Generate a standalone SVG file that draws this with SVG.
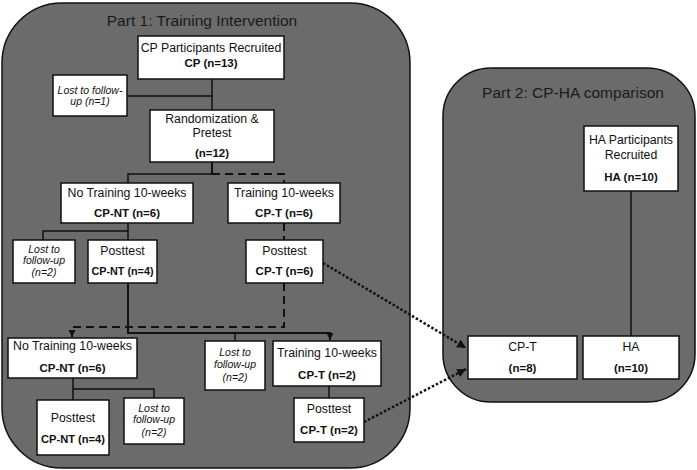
<svg xmlns="http://www.w3.org/2000/svg" width="697" height="470" viewBox="0 0 697 470">
<style>
.panel{fill:#6b6b6b;stroke:#111;stroke-width:1.5}
.title{font-family:"Liberation Sans",Arial,sans-serif;font-size:15.5px;fill:#1a1a1a;text-anchor:middle}
.box{fill:#fff;stroke:#111;stroke-width:1.5}
.t{font-family:"Liberation Sans",Arial,sans-serif;font-size:12.3px;fill:#111;text-anchor:middle}
.b{font-weight:bold;font-size:11.5px}
.i{font-style:italic;font-size:10.5px}
.ln{fill:none;stroke:#111;stroke-width:1.5}
.thk{fill:none;stroke:#111;stroke-width:2}
.dash{fill:none;stroke:#111;stroke-width:2;stroke-dasharray:8,5}
.dot{fill:none;stroke:#111;stroke-width:2.5;stroke-dasharray:2.5,2}
</style>
<defs>
<marker id="ah" markerWidth="8" markerHeight="8" refX="7" refY="4" orient="auto" markerUnits="userSpaceOnUse">
<path d="M0,0.5 L7,4 L0,7.5 Z" fill="#111"/>
</marker>
<marker id="ahd" markerWidth="10" markerHeight="10" refX="9" refY="5" orient="auto" markerUnits="userSpaceOnUse">
<path d="M0,0.5 L9,5 L0,9.5 Z" fill="#111"/>
</marker>
</defs>
<rect width="697" height="470" fill="#fff"/>
<g id="part1">
<rect class="panel" x="2" y="3" width="408" height="465" rx="60" ry="60"/>
<text class="title" x="202" y="26">Part 1: Training Intervention</text>
</g>
<g id="part2">
<rect class="panel" x="443" y="68" width="252" height="334" rx="48" ry="48"/>
<text class="title" x="573" y="98">Part 2: CP-HA comparison</text>
</g>
<g id="connectors">
<line class="ln" x1="212" y1="79" x2="212" y2="110"/>
<line class="ln" x1="127" y1="96" x2="212" y2="96"/>
<line class="thk" x1="212" y1="162" x2="212" y2="174"/>
<polyline class="ln" points="212,174 128,174 128,183"/>
<polyline class="dash" points="212,174 284,174 284,183"/>
<line class="ln" x1="128" y1="223" x2="128" y2="240"/>
<polyline class="ln" points="128,231 43,231 43,240"/>
<line class="dash" x1="284" y1="223" x2="284" y2="240" stroke-dasharray="6,3"/>
<polyline class="thk" points="128,283 128,333 330,333 330,340" marker-end="url(#ah)"/>
<line class="ln" x1="235" y1="333" x2="235" y2="341"/>
<polyline class="dash" points="284,283 284,327 72,327 72,337" marker-end="url(#ah)"/>
<line class="ln" x1="73" y1="378" x2="73" y2="400"/>
<polyline class="ln" points="73,389 154,389 154,398"/>
<line class="ln" x1="329" y1="386" x2="329" y2="398"/>
<line class="dot" x1="323" y1="263" x2="466" y2="348" marker-end="url(#ahd)"/>
<line class="dot" x1="364" y1="422" x2="466" y2="369" marker-end="url(#ahd)"/>
<line class="ln" x1="631" y1="191" x2="631" y2="336"/>
</g>
<g id="cp_recruited">
<rect class="box" x="138" y="36" width="146" height="43"/>
<text class="t" x="211" y="52">CP Participants Recruited</text>
<text class="t b" x="211" y="67">CP (n=13)</text>
</g>
<g id="lost1">
<rect class="box" x="53" y="75" width="74" height="41"/>
<text class="t i" x="90" y="94">Lost to follow-</text>
<text class="t i" x="90" y="105">up (n=1)</text>
</g>
<g id="randomization">
<rect class="box" x="150" y="110" width="124" height="52"/>
<text class="t" x="212" y="123">Randomization &amp;</text>
<text class="t" x="212" y="137">Pretest</text>
<text class="t b" x="212" y="157">(n=12)</text>
</g>
<g id="nt1">
<rect class="box" x="61" y="183" width="132" height="40"/>
<text class="t" x="127" y="197">No Training 10-weeks</text>
<text class="t b" x="127" y="217">CP-NT (n=6)</text>
</g>
<g id="t1">
<rect class="box" x="228" y="183" width="112" height="40"/>
<text class="t" x="284" y="197">Training 10-weeks</text>
<text class="t b" x="284" y="217">CP-T (n=6)</text>
</g>
<g id="lost2">
<rect class="box" x="13" y="240" width="62" height="43"/>
<text class="t i" x="44" y="253">Lost to</text>
<text class="t i" x="44" y="264">follow-up</text>
<text class="t i" x="44" y="276">(n=2)</text>
</g>
<g id="post_nt1">
<rect class="box" x="88" y="240" width="69" height="43"/>
<text class="t" x="122.5" y="255">Posttest</text>
<text class="t b" x="122.5" y="275" textLength="62" lengthAdjust="spacingAndGlyphs">CP-NT (n=4)</text>
</g>
<g id="post_t1">
<rect class="box" x="246" y="240" width="77" height="43"/>
<text class="t" x="284.5" y="255">Posttest</text>
<text class="t b" x="284.5" y="275">CP-T (n=6)</text>
</g>
<g id="nt2">
<rect class="box" x="8" y="338" width="129" height="40"/>
<text class="t" x="72.5" y="350">No Training 10-weeks</text>
<text class="t b" x="72.5" y="372">CP-NT (n=6)</text>
</g>
<g id="lost3">
<rect class="box" x="205" y="341" width="60" height="49"/>
<text class="t i" x="235" y="356">Lost to</text>
<text class="t i" x="235" y="368">follow-up</text>
<text class="t i" x="235" y="381">(n=2)</text>
</g>
<g id="t2">
<rect class="box" x="273" y="341" width="108" height="45"/>
<text class="t" x="327" y="357">Training 10-weeks</text>
<text class="t b" x="327" y="379">CP-T (n=2)</text>
</g>
<g id="post_nt2">
<rect class="box" x="37" y="400" width="72" height="55"/>
<text class="t" x="73" y="422">Posttest</text>
<text class="t b" x="73" y="443" textLength="64" lengthAdjust="spacingAndGlyphs">CP-NT (n=4)</text>
</g>
<g id="lost4">
<rect class="box" x="124" y="398" width="60" height="46"/>
<text class="t i" x="154" y="412">Lost to</text>
<text class="t i" x="154" y="423">follow-up</text>
<text class="t i" x="154" y="436">(n=2)</text>
</g>
<g id="post_t2">
<rect class="box" x="294" y="398" width="70" height="44"/>
<text class="t" x="329" y="413">Posttest</text>
<text class="t b" x="329" y="434">CP-T (n=2)</text>
</g>
<g id="ha_recruited">
<rect class="box" x="584" y="126" width="94" height="65"/>
<text class="t" x="631" y="144">HA Participants</text>
<text class="t" x="631" y="159">Recruited</text>
<text class="t b" x="631" y="181">HA (n=10)</text>
</g>
<g id="cpt_final">
<rect class="box" x="468" y="336" width="109" height="43"/>
<text class="t" x="522.5" y="351">CP-T</text>
<text class="t b" x="522.5" y="372">(n=8)</text>
</g>
<g id="ha_final">
<rect class="box" x="583" y="336" width="96" height="43"/>
<text class="t" x="631" y="351">HA</text>
<text class="t b" x="631" y="372">(n=10)</text>
</g>
</svg>
